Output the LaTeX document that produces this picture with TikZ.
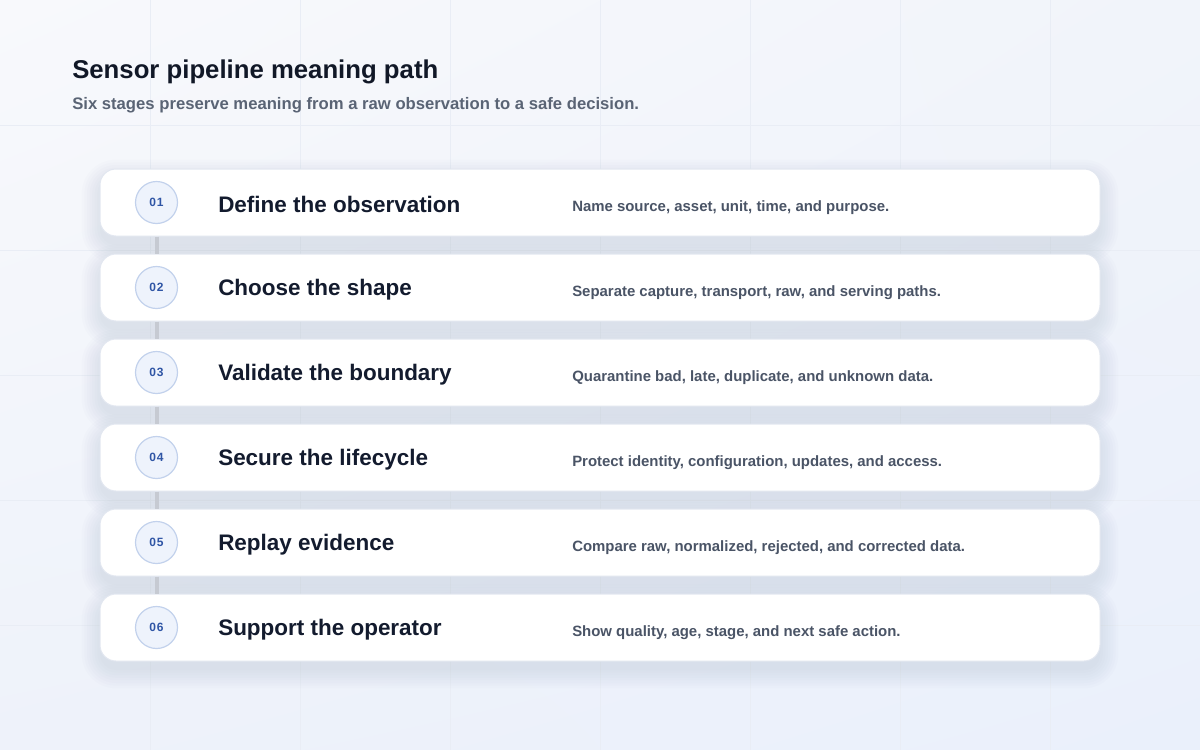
\documentclass[tikz,border=0pt]{standalone}
\usepackage{fontspec}
\setmainfont{Liberation Sans}
\usetikzlibrary{shadings}
\definecolor{bgA}{HTML}{F8F9FC}
\definecolor{bgB}{HTML}{EEF2FA}
\definecolor{bgC}{HTML}{F1F4FA}
\definecolor{bgD}{HTML}{EAF0FB}
\definecolor{gridc}{HTML}{E9EDF5}
\definecolor{titlec}{HTML}{111827}
\definecolor{subc}{HTML}{5A6475}
\definecolor{stepc}{HTML}{131B2E}
\definecolor{descc}{HTML}{4A5466}
\definecolor{numfill}{HTML}{EEF3FC}
\definecolor{numline}{HTML}{C2D1EC}
\definecolor{numtext}{HTML}{2F55A5}
\definecolor{barc}{HTML}{C6CAD2}
\definecolor{cardline}{HTML}{E2E7F0}
\definecolor{shadowc}{HTML}{8A96B5}
\begin{document}
\begin{tikzpicture}[x=0.75pt,y=-0.75pt,
  cardbox/.style={draw=cardline,line width=0.75pt,fill=white,rounded corners=12pt,
    minimum width=750pt,minimum height=50.25pt,inner sep=0pt},
  numdot/.style={circle,draw=numline,line width=0.9pt,fill=numfill,minimum size=31.5pt,inner sep=0pt,
    font=\fontsize{9pt}{10pt}\selectfont\bfseries\addfontfeature{LetterSpace=8},text=numtext},
  steptitle/.style={anchor=west,font=\fontsize{16.85pt}{19pt}\selectfont\bfseries,text=stepc,inner sep=0pt},
  stepdesc/.style={anchor=west,font=\fontsize{11.2pt}{13pt}\selectfont\bfseries,text=descc,inner sep=0pt},
  linkbar/.style={draw=barc,line width=3pt},
  gridline/.style={draw=gridc,line width=0.75pt},
  shadowlayer/.style={fill=shadowc,opacity=0.025}
]
\useasboundingbox (0,0) rectangle (1200,750);
\shade[upper left=bgA,upper right=bgC,lower left=bgB,lower right=bgD] (0,0) rectangle (1200,750);
\foreach \gx in {150,300,...,1050} \draw[gridline] (\gx,0) -- (\gx,750);
\foreach \gy in {125,250,...,625} \draw[gridline] (0,\gy) -- (1200,\gy);
% title
\node[anchor=base west,inner sep=0pt,font=\fontsize{19.3pt}{23pt}\selectfont\bfseries,text=titlec] (title) at (72,78) {Sensor pipeline meaning path};
\node[anchor=base west,inner sep=0pt,font=\fontsize{12.5pt}{14pt}\selectfont\bfseries,text=subc] (subtitle) at (72,109) {Six stages preserve meaning from a raw observation to a safe decision.};
% shadows
\foreach \i in {1,...,6} {
  \pgfmathsetmacro{\cy}{202.5+85*(\i-1)}
  \foreach \k in {0,...,7} {
    \pgfmathsetmacro{\ex}{\k*2.6}
    \pgfmathsetmacro{\rr}{12+\k*1.9}
    \fill[shadowlayer,rounded corners=\rr pt] (100-\ex,\cy-33.5-\ex+9) rectangle (1100+\ex,\cy+33.5+\ex+9);
  }
}
% cards
\foreach \i/\t/\d in {
  1/Define the observation/{Name source, asset, unit, time, and purpose.},
  2/Choose the shape/{Separate capture, transport, raw, and serving paths.},
  3/Validate the boundary/{Quarantine bad, late, duplicate, and unknown data.},
  4/Secure the lifecycle/{Protect identity, configuration, updates, and access.},
  5/Replay evidence/{Compare raw, normalized, rejected, and corrected data.},
  6/Support the operator/{Show quality, age, stage, and next safe action.}} {
  \pgfmathsetmacro{\cy}{202.5+85*(\i-1)}
  \node[cardbox] (card\i) at (600,\cy) {};
  \node[numdot] (num\i) at (156.5,\cy) {0\i};
  \node[steptitle] (step\i) at (218,\cy+2) {\t};
  \node[stepdesc] (desc\i) at (572,\cy+5) {\d};
}
\foreach \i/\j in {1/2,2/3,3/4,4/5,5/6}
  \draw[linkbar] (card\i.south -| num\i) -- (card\j.north -| num\j);
\end{tikzpicture}
\end{document}
